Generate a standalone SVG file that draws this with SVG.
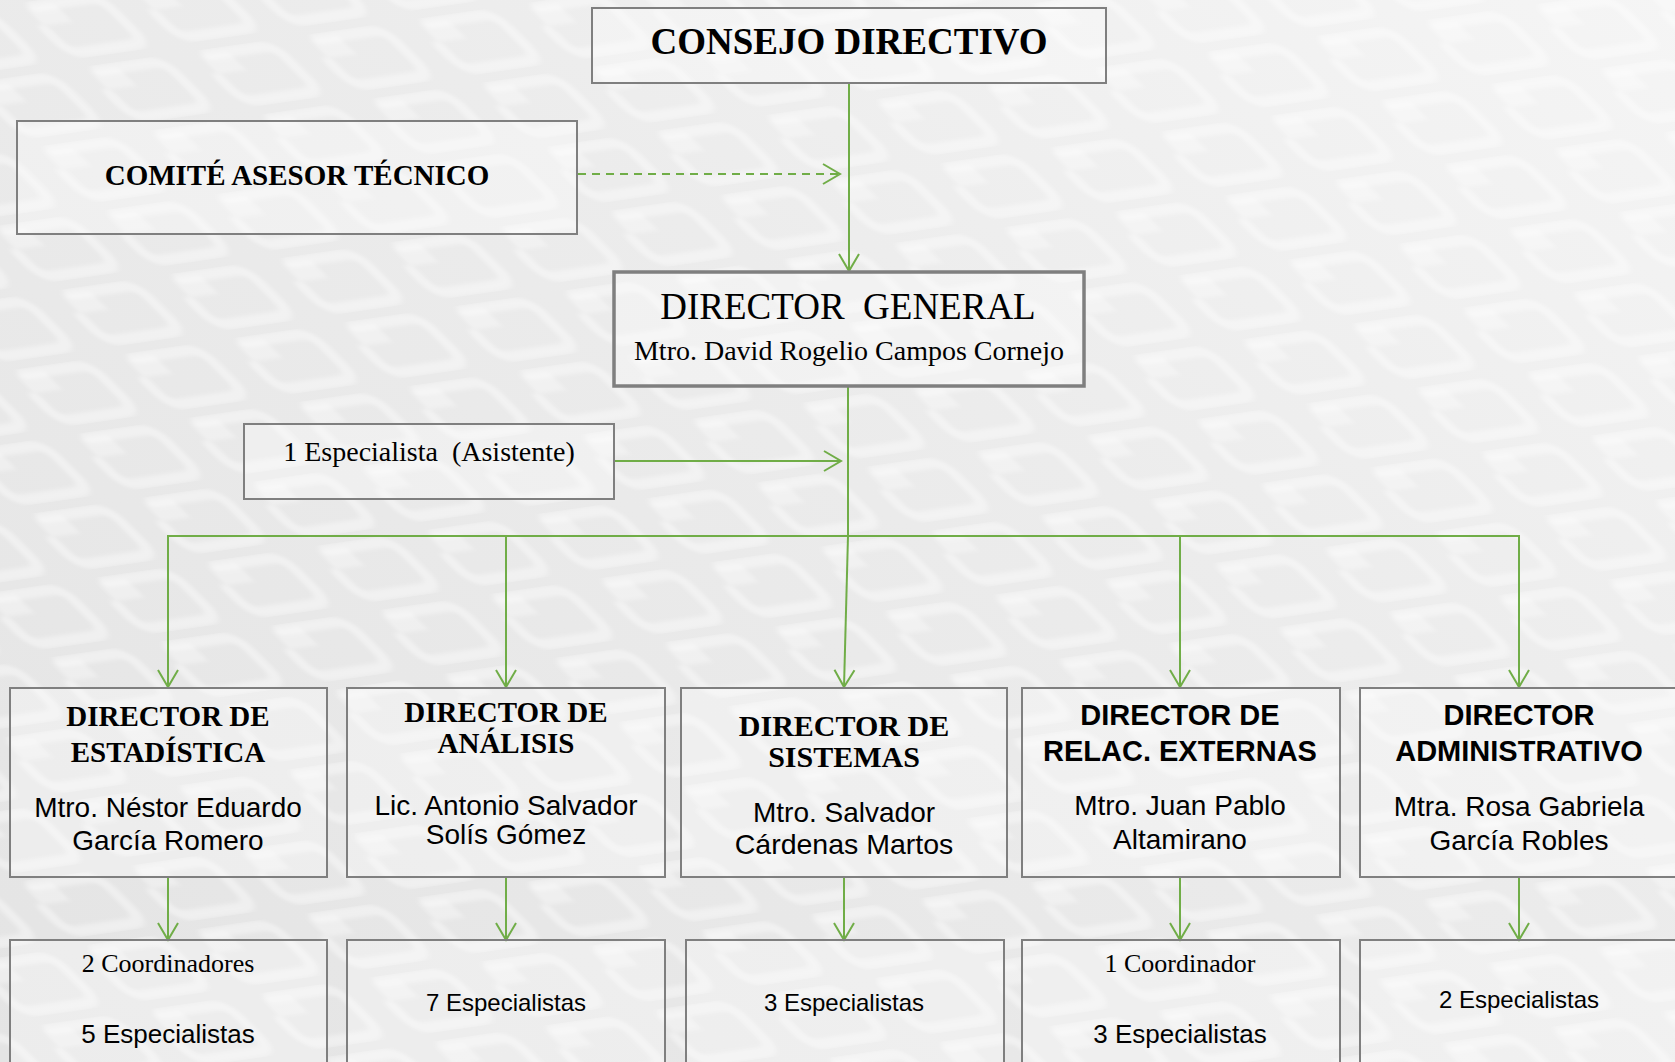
<svg xmlns="http://www.w3.org/2000/svg" width="1675" height="1062" viewBox="0 0 1675 1062">
<defs>
<linearGradient id="bgGrad" x1="0" y1="1" x2="1" y2="0">
<stop offset="0" stop-color="#e4e4e4"/>
<stop offset="0.6" stop-color="#ececec"/>
<stop offset="1" stop-color="#f5f5f5"/>
</linearGradient>
<filter id="soft" x="-10%" y="-10%" width="120%" height="120%">
<feGaussianBlur stdDeviation="2"/>
</filter>
<pattern id="tiles" width="110" height="64" patternUnits="userSpaceOnUse" patternTransform="matrix(1,-0.144,1.0,1,0,0)">
<g filter="url(#soft)">
<path d="M24,10 H76 Q90,10 90,24 V42 Q90,56 76,56 H28 Q14,56 14,42 V32" fill="none" stroke="#ffffff" stroke-opacity="0.38" stroke-width="10" stroke-linecap="round"/>
<path d="M16,10 H44 V28 H16 Z" fill="#ffffff" fill-opacity="0.32"/>
</g>
</pattern>
<marker id="ah" viewBox="-2 -12 22 24" refX="17" refY="0" markerWidth="22" markerHeight="24" markerUnits="userSpaceOnUse" orient="auto" overflow="visible">
<path d="M0,-10 L17,0 L0,10" fill="none" stroke="#70ad47" stroke-width="2"/>
</marker>
<style>
.box{fill:#ffffff;fill-opacity:0.3;stroke:#7f7f7f;stroke-width:2}
.dg{fill:#ffffff;fill-opacity:0.3;stroke:#7f7f7f;stroke-width:3.5}
.ln{stroke:#70ad47;stroke-width:2;fill:none}
.arr{stroke:#70ad47;stroke-width:2;fill:none;marker-end:url(#ah)}
.tb{font-family:"Liberation Serif",serif;font-weight:bold;fill:#000;text-anchor:middle}
.tr{font-family:"Liberation Serif",serif;fill:#000;text-anchor:middle}
.sb{font-family:"Liberation Sans",sans-serif;font-weight:bold;fill:#000;text-anchor:middle}
.sr{font-family:"Liberation Sans",sans-serif;fill:#000;text-anchor:middle}
</style>
</defs>
<rect x="0" y="0" width="1675" height="1062" fill="url(#bgGrad)"/>
<rect x="0" y="0" width="1675" height="1062" fill="url(#tiles)"/>

<g id="connectors">
<line class="arr" x1="849" y1="83" x2="849" y2="271"/>
<line class="arr" x1="578" y1="174" x2="840" y2="174" stroke-dasharray="8,6"/>
<line class="ln" x1="848" y1="386" x2="848" y2="537" stroke-width="3"/>
<line class="arr" x1="614" y1="461" x2="841" y2="461"/>
<line class="ln" x1="167" y1="536" x2="1520" y2="536"/>
<line class="arr" x1="168" y1="536" x2="168" y2="687"/>
<line class="arr" x1="506" y1="536" x2="506" y2="687"/>
<line class="arr" x1="848" y1="536" x2="844" y2="687"/>
<line class="arr" x1="1180" y1="536" x2="1180" y2="687"/>
<line class="arr" x1="1519" y1="536" x2="1519" y2="687"/>
<line class="arr" x1="168" y1="877" x2="168" y2="940"/>
<line class="arr" x1="506" y1="877" x2="506" y2="940"/>
<line class="arr" x1="844" y1="877" x2="844" y2="940"/>
<line class="arr" x1="1180" y1="877" x2="1180" y2="940"/>
<line class="arr" x1="1519" y1="877" x2="1519" y2="940"/>
</g>

<g id="consejo">
<rect class="box" x="592" y="8" width="514" height="75"/>
<text class="tb" x="849" y="54" font-size="37">CONSEJO DIRECTIVO</text>
</g>

<g id="comite">
<rect class="box" x="17" y="121" width="560" height="113"/>
<text class="tb" x="297" y="185" font-size="29">COMITÉ ASESOR TÉCNICO</text>
</g>

<g id="director-general">
<rect class="dg" x="614" y="272" width="470" height="114"/>
<text class="tr" x="848" y="319" font-size="37" xml:space="preserve">DIRECTOR  GENERAL</text>
<text class="tr" x="849" y="360" font-size="28">Mtro. David Rogelio Campos Cornejo</text>
</g>

<g id="asistente">
<rect class="box" x="244" y="424" width="370" height="75"/>
<text class="tr" x="429" y="461" font-size="28" xml:space="preserve">1 Especialista  (Asistente)</text>
</g>

<g id="dir-estadistica">
<rect class="box" x="10" y="688" width="317" height="189"/>
<text class="tb" x="168" y="726" font-size="29">DIRECTOR DE</text>
<text class="tb" x="168" y="762" font-size="29">ESTADÍSTICA</text>
<text class="sr" x="168" y="817" font-size="28">Mtro. Néstor Eduardo</text>
<text class="sr" x="168" y="850" font-size="28">García Romero</text>
</g>

<g id="dir-analisis">
<rect class="box" x="347" y="688" width="318" height="189"/>
<text class="tb" x="506" y="722" font-size="29">DIRECTOR DE</text>
<text class="tb" x="506" y="753" font-size="29">ANÁLISIS</text>
<text class="sr" x="506" y="815" font-size="28">Lic. Antonio Salvador</text>
<text class="sr" x="506" y="844" font-size="28">Solís Gómez</text>
</g>

<g id="dir-sistemas">
<rect class="box" x="681" y="688" width="326" height="189"/>
<text class="tb" x="844" y="736" font-size="30">DIRECTOR DE</text>
<text class="tb" x="844" y="767" font-size="30">SISTEMAS</text>
<text class="sr" x="844" y="822" font-size="28">Mtro. Salvador</text>
<text class="sr" x="844" y="854" font-size="28.5">Cárdenas Martos</text>
</g>

<g id="dir-relaciones">
<rect class="box" x="1022" y="688" width="318" height="189"/>
<text class="sb" x="1180" y="725" font-size="29">DIRECTOR DE</text>
<text class="sb" x="1180" y="761" font-size="29">RELAC. EXTERNAS</text>
<text class="sr" x="1180" y="815" font-size="28">Mtro. Juan Pablo</text>
<text class="sr" x="1180" y="849" font-size="28">Altamirano</text>
</g>

<g id="dir-administrativo">
<rect class="box" x="1360" y="688" width="320" height="189"/>
<text class="sb" x="1519" y="725" font-size="29">DIRECTOR</text>
<text class="sb" x="1519" y="761" font-size="29">ADMINISTRATIVO</text>
<text class="sr" x="1519" y="816" font-size="28">Mtra. Rosa Gabriela</text>
<text class="sr" x="1519" y="850" font-size="28">García Robles</text>
</g>

<g id="staff-estadistica">
<rect class="box" x="10" y="940" width="317" height="130"/>
<text class="tr" x="168" y="972" font-size="26">2 Coordinadores</text>
<text class="sr" x="168" y="1043" font-size="26">5 Especialistas</text>
</g>

<g id="staff-analisis">
<rect class="box" x="347" y="940" width="318" height="130"/>
<text class="sr" x="506" y="1011" font-size="24">7 Especialistas</text>
</g>

<g id="staff-sistemas">
<rect class="box" x="686" y="940" width="318" height="130"/>
<text class="sr" x="844" y="1011" font-size="24">3 Especialistas</text>
</g>

<g id="staff-relaciones">
<rect class="box" x="1022" y="940" width="318" height="130"/>
<text class="tr" x="1180" y="972" font-size="26">1 Coordinador</text>
<text class="sr" x="1180" y="1043" font-size="26">3 Especialistas</text>
</g>

<g id="staff-administrativo">
<rect class="box" x="1360" y="940" width="320" height="130"/>
<text class="sr" x="1519" y="1008" font-size="24">2 Especialistas</text>
</g>
</svg>
